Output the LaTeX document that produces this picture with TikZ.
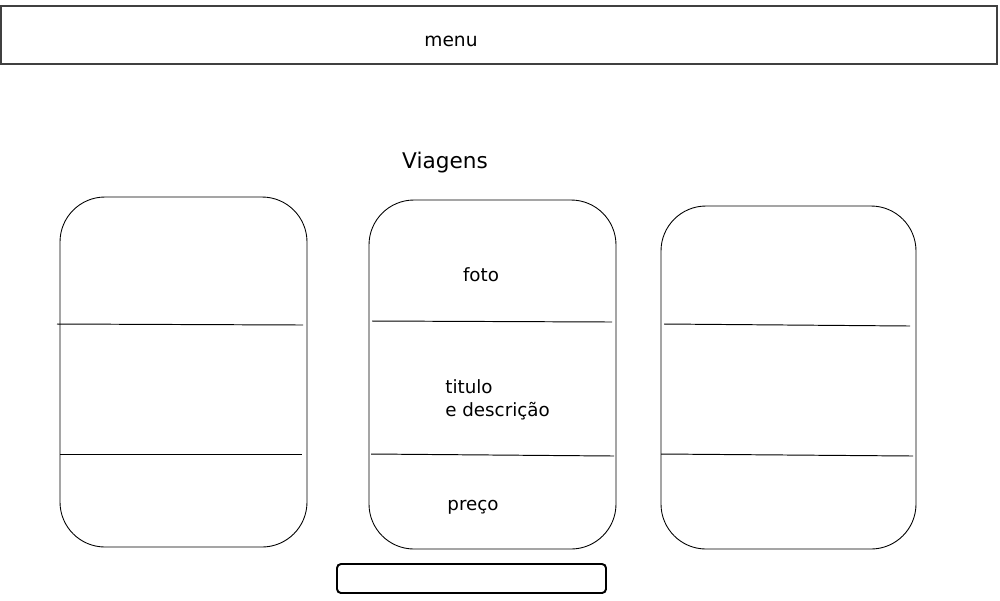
\documentclass[tikz,border=0pt]{standalone}
\usepackage{fontspec}
\setmainfont{DejaVu Sans}
\begin{document}
\begin{tikzpicture}[x=0.02cm,y=-0.02cm]
	\tikzset{card/.style={draw=black,line width=0.5pt,rounded corners=0.9cm},
		divider/.style={draw=black,line width=0.55pt},
		label/.style={font=\fontsize{10.4}{13}\selectfont,inner sep=0pt}}
	\useasboundingbox (0,0) rectangle (1000,600);
	% menu bar
	\draw[draw=black!75,line width=0.6pt] (1,6) rectangle (997,64);
	\node[label,font=\fontsize{10.6}{12}\selectfont] (menu) at (451,41) {menu};
	\node[label,font=\fontsize{12.3}{14}\selectfont] (titulo) at (445,163) {Viagens};
	% cards
	\draw[card] (60,197) rectangle (307,547);
	\draw[card] (369,200) rectangle (616,549);
	\draw[card] (661,206) rectangle (916,549);
	\path[divider] (57,324) -- (303,325);
	\path[divider] (60,454) -- (302,454);
	\path[divider] (372,321) -- (612,322);
	\path[divider] (371,454) -- (614,456);
	\path[divider] (664,324) -- (910,326);
	\path[divider] (661,454) -- (913,456);
	\node[label] (foto) at (481,275) {foto};
	\node[label,align=left,anchor=west] (desc) at (445,400) {titulo\\e descrição};
	\node[label] (preco) at (473,507) {preço};
	% button
	\draw[line width=1.1pt,rounded corners=0.08cm] (337,564) rectangle (606,593);
\end{tikzpicture}
\end{document}
